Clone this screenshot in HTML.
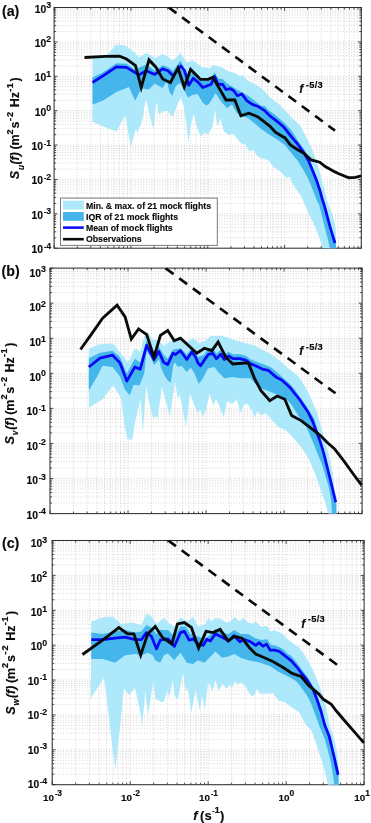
<!DOCTYPE html><html><head><meta charset="utf-8"><title>Spectra</title>
<style>html,body{margin:0;padding:0;background:#fff}svg{display:block}text{font-family:"Liberation Sans", sans-serif;font-weight:bold;fill:#0a0a0a;stroke:#0a0a0a;stroke-width:0.14px}</style></head><body>
<svg width="371" height="823" viewBox="0 0 371 823">
<rect width="371" height="823" fill="#fff"/>
<g id="panel-a">
<clipPath id="clip-a"><rect x="53.6" y="7.0" width="308.2" height="241.7"/></clipPath>
<path d="M77.27 7.5V248.2M90.80 7.5V248.2M100.40 7.5V248.2M107.84 7.5V248.2M113.92 7.5V248.2M119.06 7.5V248.2M123.52 7.5V248.2M127.45 7.5V248.2M130.96 7.5V248.2M154.09 7.5V248.2M167.61 7.5V248.2M177.21 7.5V248.2M184.65 7.5V248.2M190.73 7.5V248.2M195.88 7.5V248.2M200.33 7.5V248.2M204.26 7.5V248.2M207.78 7.5V248.2M230.90 7.5V248.2M244.42 7.5V248.2M254.02 7.5V248.2M261.46 7.5V248.2M267.55 7.5V248.2M272.69 7.5V248.2M277.14 7.5V248.2M281.07 7.5V248.2M284.59 7.5V248.2M307.71 7.5V248.2M321.24 7.5V248.2M330.83 7.5V248.2M338.28 7.5V248.2M344.36 7.5V248.2M349.50 7.5V248.2M353.96 7.5V248.2M357.89 7.5V248.2M54.1 237.85H361.4M54.1 231.79H361.4M54.1 227.50H361.4M54.1 224.17H361.4M54.1 221.44H361.4M54.1 219.14H361.4M54.1 217.15H361.4M54.1 215.39H361.4M54.1 213.81H361.4M54.1 203.46H361.4M54.1 197.41H361.4M54.1 193.11H361.4M54.1 189.78H361.4M54.1 187.06H361.4M54.1 184.75H361.4M54.1 182.76H361.4M54.1 181.00H361.4M54.1 179.43H361.4M54.1 169.08H361.4M54.1 163.02H361.4M54.1 158.73H361.4M54.1 155.39H361.4M54.1 152.67H361.4M54.1 150.37H361.4M54.1 148.38H361.4M54.1 146.62H361.4M54.1 145.04H361.4M54.1 134.69H361.4M54.1 128.64H361.4M54.1 124.34H361.4M54.1 121.01H361.4M54.1 118.29H361.4M54.1 115.98H361.4M54.1 113.99H361.4M54.1 112.23H361.4M54.1 110.66H361.4M54.1 100.31H361.4M54.1 94.25H361.4M54.1 89.95H361.4M54.1 86.62H361.4M54.1 83.90H361.4M54.1 81.60H361.4M54.1 79.60H361.4M54.1 77.84H361.4M54.1 76.27H361.4M54.1 65.92H361.4M54.1 59.87H361.4M54.1 55.57H361.4M54.1 52.24H361.4M54.1 49.51H361.4M54.1 47.21H361.4M54.1 45.22H361.4M54.1 43.46H361.4M54.1 41.89H361.4M54.1 31.53H361.4M54.1 25.48H361.4M54.1 21.18H361.4M54.1 17.85H361.4M54.1 15.13H361.4M54.1 12.83H361.4M54.1 10.83H361.4M54.1 9.07H361.4" stroke="#c6c6c6" stroke-width="0.7" stroke-dasharray="1 1.7" fill="none"/>
<path d="M54.15 248.2v-3.3M54.15 7.5v3.3M77.27 248.2v-2.0M77.27 7.5v2.0M90.80 248.2v-2.0M90.80 7.5v2.0M100.40 248.2v-2.0M100.40 7.5v2.0M107.84 248.2v-2.0M107.84 7.5v2.0M113.92 248.2v-2.0M113.92 7.5v2.0M119.06 248.2v-2.0M119.06 7.5v2.0M123.52 248.2v-2.0M123.52 7.5v2.0M127.45 248.2v-2.0M127.45 7.5v2.0M130.96 248.2v-3.3M130.96 7.5v3.3M154.09 248.2v-2.0M154.09 7.5v2.0M167.61 248.2v-2.0M167.61 7.5v2.0M177.21 248.2v-2.0M177.21 7.5v2.0M184.65 248.2v-2.0M184.65 7.5v2.0M190.73 248.2v-2.0M190.73 7.5v2.0M195.88 248.2v-2.0M195.88 7.5v2.0M200.33 248.2v-2.0M200.33 7.5v2.0M204.26 248.2v-2.0M204.26 7.5v2.0M207.78 248.2v-3.3M207.78 7.5v3.3M230.90 248.2v-2.0M230.90 7.5v2.0M244.42 248.2v-2.0M244.42 7.5v2.0M254.02 248.2v-2.0M254.02 7.5v2.0M261.46 248.2v-2.0M261.46 7.5v2.0M267.55 248.2v-2.0M267.55 7.5v2.0M272.69 248.2v-2.0M272.69 7.5v2.0M277.14 248.2v-2.0M277.14 7.5v2.0M281.07 248.2v-2.0M281.07 7.5v2.0M284.59 248.2v-3.3M284.59 7.5v3.3M307.71 248.2v-2.0M307.71 7.5v2.0M321.24 248.2v-2.0M321.24 7.5v2.0M330.83 248.2v-2.0M330.83 7.5v2.0M338.28 248.2v-2.0M338.28 7.5v2.0M344.36 248.2v-2.0M344.36 7.5v2.0M349.50 248.2v-2.0M349.50 7.5v2.0M353.96 248.2v-2.0M353.96 7.5v2.0M357.89 248.2v-2.0M357.89 7.5v2.0M361.40 248.2v-3.3M361.40 7.5v3.3M54.1 248.20h3.3M361.4 248.20h-3.3M54.1 237.85h2.0M361.4 237.85h-2.0M54.1 231.79h2.0M361.4 231.79h-2.0M54.1 227.50h2.0M361.4 227.50h-2.0M54.1 224.17h2.0M361.4 224.17h-2.0M54.1 221.44h2.0M361.4 221.44h-2.0M54.1 219.14h2.0M361.4 219.14h-2.0M54.1 217.15h2.0M361.4 217.15h-2.0M54.1 215.39h2.0M361.4 215.39h-2.0M54.1 213.81h3.3M361.4 213.81h-3.3M54.1 203.46h2.0M361.4 203.46h-2.0M54.1 197.41h2.0M361.4 197.41h-2.0M54.1 193.11h2.0M361.4 193.11h-2.0M54.1 189.78h2.0M361.4 189.78h-2.0M54.1 187.06h2.0M361.4 187.06h-2.0M54.1 184.75h2.0M361.4 184.75h-2.0M54.1 182.76h2.0M361.4 182.76h-2.0M54.1 181.00h2.0M361.4 181.00h-2.0M54.1 179.43h3.3M361.4 179.43h-3.3M54.1 169.08h2.0M361.4 169.08h-2.0M54.1 163.02h2.0M361.4 163.02h-2.0M54.1 158.73h2.0M361.4 158.73h-2.0M54.1 155.39h2.0M361.4 155.39h-2.0M54.1 152.67h2.0M361.4 152.67h-2.0M54.1 150.37h2.0M361.4 150.37h-2.0M54.1 148.38h2.0M361.4 148.38h-2.0M54.1 146.62h2.0M361.4 146.62h-2.0M54.1 145.04h3.3M361.4 145.04h-3.3M54.1 134.69h2.0M361.4 134.69h-2.0M54.1 128.64h2.0M361.4 128.64h-2.0M54.1 124.34h2.0M361.4 124.34h-2.0M54.1 121.01h2.0M361.4 121.01h-2.0M54.1 118.29h2.0M361.4 118.29h-2.0M54.1 115.98h2.0M361.4 115.98h-2.0M54.1 113.99h2.0M361.4 113.99h-2.0M54.1 112.23h2.0M361.4 112.23h-2.0M54.1 110.66h3.3M361.4 110.66h-3.3M54.1 100.31h2.0M361.4 100.31h-2.0M54.1 94.25h2.0M361.4 94.25h-2.0M54.1 89.95h2.0M361.4 89.95h-2.0M54.1 86.62h2.0M361.4 86.62h-2.0M54.1 83.90h2.0M361.4 83.90h-2.0M54.1 81.60h2.0M361.4 81.60h-2.0M54.1 79.60h2.0M361.4 79.60h-2.0M54.1 77.84h2.0M361.4 77.84h-2.0M54.1 76.27h3.3M361.4 76.27h-3.3M54.1 65.92h2.0M361.4 65.92h-2.0M54.1 59.87h2.0M361.4 59.87h-2.0M54.1 55.57h2.0M361.4 55.57h-2.0M54.1 52.24h2.0M361.4 52.24h-2.0M54.1 49.51h2.0M361.4 49.51h-2.0M54.1 47.21h2.0M361.4 47.21h-2.0M54.1 45.22h2.0M361.4 45.22h-2.0M54.1 43.46h2.0M361.4 43.46h-2.0M54.1 41.89h3.3M361.4 41.89h-3.3M54.1 31.53h2.0M361.4 31.53h-2.0M54.1 25.48h2.0M361.4 25.48h-2.0M54.1 21.18h2.0M361.4 21.18h-2.0M54.1 17.85h2.0M361.4 17.85h-2.0M54.1 15.13h2.0M361.4 15.13h-2.0M54.1 12.83h2.0M361.4 12.83h-2.0M54.1 10.83h2.0M361.4 10.83h-2.0M54.1 9.07h2.0M361.4 9.07h-2.0M54.1 7.50h3.3M361.4 7.50h-3.3" stroke="#2a2a2a" stroke-width="0.85" fill="none"/>
<rect x="54.1" y="7.5" width="307.2" height="240.7" fill="none" stroke="#303030" stroke-width="1.05"/>
<g clip-path="url(#clip-a)">
<polygon points="92.5,57.4 107.6,54.4 116.4,44.4 125.1,45.6 135.2,53.1 138.9,57.4 146.4,53.1 155.2,58.1 162.7,53.9 168.0,56.9 173.0,60.6 180.5,53.1 186.8,61.9 193.0,60.6 201.8,66.9 209.4,68.2 212.9,65.0 222.5,67.6 227.8,71.1 234.8,72.9 240.0,76.2 242.6,75.5 247.0,79.9 253.2,83.4 257.6,85.5 264.6,91.3 270.0,97.2 280.8,105.8 291.6,117.6 300.1,125.5 305.5,135.8 310.9,146.6 314.6,156.3 316.8,163.5 318.2,166.5 320.9,176.2 323.6,187.0 326.3,196.7 328.6,205.0 332.5,215.0 335.3,226.6 336.0,232.0 336.0,248.2 322.9,248.2 319.2,237.3 314.9,226.6 307.4,210.8 301.0,195.7 293.6,185.7 289.8,177.0 286.0,178.0 281.0,172.0 273.5,167.0 268.5,160.6 261.0,158.0 257.2,156.0 253.7,149.9 249.3,151.7 245.8,144.7 241.4,143.8 237.0,138.5 232.7,133.3 229.2,135.0 223.9,131.5 220.4,118.4 217.4,126.3 215.1,109.6 212.5,126.3 208.1,134.5 204.6,132.4 200.6,136.8 196.3,124.8 193.7,113.4 190.7,126.5 188.4,143.2 186.7,126.5 184.0,107.3 180.9,97.6 177.0,105.5 172.7,116.9 167.4,110.8 163.0,111.6 158.7,114.3 156.4,102.0 153.4,129.2 149.0,112.5 145.9,98.5 142.0,121.3 137.6,132.4 135.8,128.9 130.9,147.0 125.6,117.5 124.4,116.6 116.5,131.5 102.5,126.3 92.4,121.5" fill="#ade8fb"/>
<polygon points="92.5,77.4 102.6,72.4 116.4,63.2 126.4,63.7 135.2,69.4 146.4,64.4 154.7,70.7 162.7,65.2 168.0,66.9 173.0,70.7 180.5,60.6 187.9,75.7 193.2,72.2 197.6,75.7 202.8,80.9 209.4,79.4 211.1,79.0 214.6,72.0 218.1,78.5 222.5,79.0 226.9,83.2 236.9,89.5 248.2,95.7 261.0,105.8 264.6,106.0 270.0,111.2 276.5,116.0 284.0,122.5 291.6,130.6 299.0,142.3 304.4,149.8 309.5,160.0 313.5,169.7 317.8,180.5 321.0,190.2 323.7,200.0 325.4,205.0 331.0,226.6 334.2,237.3 336.0,242.0 336.0,248.2 330.0,248.2 327.3,237.3 324.6,226.6 319.2,205.0 316.6,200.0 314.9,195.6 311.2,185.9 306.9,176.2 302.5,168.6 297.2,160.0 295.8,158.4 290.4,152.0 285.0,145.0 278.0,140.0 270.0,135.0 261.0,129.0 254.5,123.3 248.2,118.3 236.9,113.3 231.9,104.5 226.9,108.3 220.6,100.8 215.6,93.2 209.4,103.3 206.3,105.4 202.8,102.8 197.6,94.1 192.3,94.9 187.9,97.6 184.4,90.6 180.0,82.7 175.7,86.2 172.2,95.8 169.5,92.3 166.9,80.9 162.5,87.9 154.6,83.5 149.0,89.5 141.4,88.2 135.2,100.8 128.9,87.0 116.4,92.0 102.6,100.8 92.5,104.5" fill="#45b6eb"/>
<polyline points="92.5,82.5 102.6,76.2 116.4,66.9 126.4,67.4 138.9,74.9 146.4,70.7 154.7,74.4 162.7,68.9 168.0,70.7 173.0,75.7 180.9,66.0 184.5,70.5 188.8,85.3 193.2,78.3 197.6,81.8 202.8,87.5 209.4,85.0 211.1,84.3 214.6,76.4 218.1,84.3 222.5,84.3 226.0,89.5 230.4,88.7 233.5,90.5 237.4,95.7 241.8,93.9 247.0,100.9 252.3,104.4 257.6,106.2 264.6,110.6 270.0,116.0 276.5,120.9 284.0,127.3 291.5,136.9 297.9,144.4 303.3,152.0 308.3,160.3 312.3,169.7 316.6,180.5 319.8,190.2 322.5,200.0 324.2,205.0 330.0,226.6 333.2,237.3 335.0,243.0" fill="none" stroke="#0808f6" stroke-width="2.75" stroke-linejoin="round"/>
<polyline points="84.5,57.5 105.0,56.4 119.5,56.2 126.5,59.0 135.5,65.5 141.2,87.5 149.0,59.9 155.7,66.9 162.7,79.0 170.4,82.7 178.0,68.2 184.3,87.0 190.6,69.4 200.6,79.4 208.1,79.4 212.9,77.3 226.0,100.0 234.8,100.0 240.9,115.8 248.8,113.2 257.6,116.7 261.5,119.7 270.0,126.3 275.4,132.2 280.0,135.0 285.0,137.9 290.4,144.9 296.9,149.3 304.4,153.6 311.2,160.0 319.8,162.2 325.2,166.5 335.0,171.9 338.3,173.5 348.8,177.7 355.5,177.3 361.2,175.8" fill="none" stroke="#0a0a0a" stroke-width="2.85" stroke-linejoin="miter"/>
<line x1="168.8" y1="7.5" x2="335.0" y2="130.6" stroke="#0a0a0a" stroke-width="2.65" stroke-dasharray="9.50 7.05" stroke-dashoffset="0.0"/>
</g>
<text x="51.1" y="12.6" text-anchor="end" font-size="10.3"><tspan>10</tspan><tspan dy="-4.5" font-size="8.8">3</tspan></text>
<text x="51.1" y="46.9" text-anchor="end" font-size="10.3"><tspan>10</tspan><tspan dy="-4.5" font-size="8.8">2</tspan></text>
<text x="51.1" y="81.3" text-anchor="end" font-size="10.3"><tspan>10</tspan><tspan dy="-4.5" font-size="8.8">1</tspan></text>
<text x="51.1" y="115.7" text-anchor="end" font-size="10.3"><tspan>10</tspan><tspan dy="-4.5" font-size="8.8">0</tspan></text>
<text x="51.1" y="150.0" text-anchor="end" font-size="10.3"><tspan>10</tspan><tspan dx="0.9" dy="-4.5" font-size="6.6">-</tspan><tspan font-size="8.8">1</tspan></text>
<text x="51.1" y="184.4" text-anchor="end" font-size="10.3"><tspan>10</tspan><tspan dx="0.9" dy="-4.5" font-size="6.6">-</tspan><tspan font-size="8.8">2</tspan></text>
<text x="51.1" y="218.8" text-anchor="end" font-size="10.3"><tspan>10</tspan><tspan dx="0.9" dy="-4.5" font-size="6.6">-</tspan><tspan font-size="8.8">3</tspan></text>
<text x="51.1" y="253.1" text-anchor="end" font-size="10.3"><tspan>10</tspan><tspan dx="0.9" dy="-4.5" font-size="6.6">-</tspan><tspan font-size="8.8">4</tspan></text>
<text x="2.0" y="15.9" font-size="14.2">(a)</text>
<text transform="translate(19.2 0) rotate(-90)" font-size="12.5" stroke-width="0.12"><tspan x="-179.2" font-style="italic">S</tspan><tspan x="-170.0" font-style="italic" font-size="8.3" dy="4.6">u</tspan><tspan x="-164.6" dy="-4.6" font-style="italic">(f)</tspan><tspan x="-149.6">(m</tspan><tspan x="-134.4" font-size="9.2" dy="-6.6">2</tspan><tspan x="-128.5" dy="6.6">s</tspan><tspan x="-121.0" font-size="9.2" dy="-6.6">-</tspan><tspan x="-116.9" font-size="9.2">2</tspan><tspan x="-107.2" dy="6.6">H</tspan><tspan x="-98.2">z</tspan><tspan x="-91.7" font-size="9.2" dy="-6.6">-</tspan><tspan x="-88.2" font-size="9.2">1</tspan><tspan x="-81.6" dy="6.6">)</tspan></text>
<text x="299.2" y="93.4" font-size="12"><tspan font-style="italic">f</tspan><tspan dx="2.6" dy="-5.2" font-size="9.4" letter-spacing="0.25">-5/3</tspan></text>
</g>
<g id="panel-b">
<clipPath id="clip-b"><rect x="49.5" y="267.6" width="313.1" height="246.5"/></clipPath>
<path d="M73.49 268.1V513.6M87.23 268.1V513.6M96.98 268.1V513.6M104.54 268.1V513.6M110.72 268.1V513.6M115.94 268.1V513.6M120.46 268.1V513.6M124.45 268.1V513.6M128.03 268.1V513.6M151.51 268.1V513.6M165.25 268.1V513.6M175.00 268.1V513.6M182.56 268.1V513.6M188.74 268.1V513.6M193.96 268.1V513.6M198.49 268.1V513.6M202.48 268.1V513.6M206.05 268.1V513.6M229.54 268.1V513.6M243.28 268.1V513.6M253.03 268.1V513.6M260.59 268.1V513.6M266.77 268.1V513.6M271.99 268.1V513.6M276.51 268.1V513.6M280.50 268.1V513.6M284.08 268.1V513.6M307.56 268.1V513.6M321.30 268.1V513.6M331.05 268.1V513.6M338.61 268.1V513.6M344.79 268.1V513.6M350.01 268.1V513.6M354.54 268.1V513.6M358.53 268.1V513.6M50.0 503.04H362.1M50.0 496.87H362.1M50.0 492.48H362.1M50.0 489.09H362.1M50.0 486.31H362.1M50.0 483.96H362.1M50.0 481.93H362.1M50.0 480.13H362.1M50.0 478.53H362.1M50.0 467.97H362.1M50.0 461.80H362.1M50.0 457.41H362.1M50.0 454.01H362.1M50.0 451.24H362.1M50.0 448.89H362.1M50.0 446.86H362.1M50.0 445.06H362.1M50.0 443.46H362.1M50.0 432.90H362.1M50.0 426.72H362.1M50.0 422.34H362.1M50.0 418.94H362.1M50.0 416.17H362.1M50.0 413.82H362.1M50.0 411.78H362.1M50.0 409.99H362.1M50.0 408.39H362.1M50.0 397.83H362.1M50.0 391.65H362.1M50.0 387.27H362.1M50.0 383.87H362.1M50.0 381.09H362.1M50.0 378.75H362.1M50.0 376.71H362.1M50.0 374.92H362.1M50.0 373.31H362.1M50.0 362.76H362.1M50.0 356.58H362.1M50.0 352.20H362.1M50.0 348.80H362.1M50.0 346.02H362.1M50.0 343.68H362.1M50.0 341.64H362.1M50.0 339.85H362.1M50.0 338.24H362.1M50.0 327.69H362.1M50.0 321.51H362.1M50.0 317.13H362.1M50.0 313.73H362.1M50.0 310.95H362.1M50.0 308.60H362.1M50.0 306.57H362.1M50.0 304.78H362.1M50.0 303.17H362.1M50.0 292.61H362.1M50.0 286.44H362.1M50.0 282.06H362.1M50.0 278.66H362.1M50.0 275.88H362.1M50.0 273.53H362.1M50.0 271.50H362.1M50.0 269.70H362.1" stroke="#c6c6c6" stroke-width="0.7" stroke-dasharray="1 1.7" fill="none"/>
<path d="M50.00 513.6v-3.3M50.00 268.1v3.3M73.49 513.6v-2.0M73.49 268.1v2.0M87.23 513.6v-2.0M87.23 268.1v2.0M96.98 513.6v-2.0M96.98 268.1v2.0M104.54 513.6v-2.0M104.54 268.1v2.0M110.72 513.6v-2.0M110.72 268.1v2.0M115.94 513.6v-2.0M115.94 268.1v2.0M120.46 513.6v-2.0M120.46 268.1v2.0M124.45 513.6v-2.0M124.45 268.1v2.0M128.03 513.6v-3.3M128.03 268.1v3.3M151.51 513.6v-2.0M151.51 268.1v2.0M165.25 513.6v-2.0M165.25 268.1v2.0M175.00 513.6v-2.0M175.00 268.1v2.0M182.56 513.6v-2.0M182.56 268.1v2.0M188.74 513.6v-2.0M188.74 268.1v2.0M193.96 513.6v-2.0M193.96 268.1v2.0M198.49 513.6v-2.0M198.49 268.1v2.0M202.48 513.6v-2.0M202.48 268.1v2.0M206.05 513.6v-3.3M206.05 268.1v3.3M229.54 513.6v-2.0M229.54 268.1v2.0M243.28 513.6v-2.0M243.28 268.1v2.0M253.03 513.6v-2.0M253.03 268.1v2.0M260.59 513.6v-2.0M260.59 268.1v2.0M266.77 513.6v-2.0M266.77 268.1v2.0M271.99 513.6v-2.0M271.99 268.1v2.0M276.51 513.6v-2.0M276.51 268.1v2.0M280.50 513.6v-2.0M280.50 268.1v2.0M284.08 513.6v-3.3M284.08 268.1v3.3M307.56 513.6v-2.0M307.56 268.1v2.0M321.30 513.6v-2.0M321.30 268.1v2.0M331.05 513.6v-2.0M331.05 268.1v2.0M338.61 513.6v-2.0M338.61 268.1v2.0M344.79 513.6v-2.0M344.79 268.1v2.0M350.01 513.6v-2.0M350.01 268.1v2.0M354.54 513.6v-2.0M354.54 268.1v2.0M358.53 513.6v-2.0M358.53 268.1v2.0M362.10 513.6v-3.3M362.10 268.1v3.3M50.0 513.60h3.3M362.1 513.60h-3.3M50.0 503.04h2.0M362.1 503.04h-2.0M50.0 496.87h2.0M362.1 496.87h-2.0M50.0 492.48h2.0M362.1 492.48h-2.0M50.0 489.09h2.0M362.1 489.09h-2.0M50.0 486.31h2.0M362.1 486.31h-2.0M50.0 483.96h2.0M362.1 483.96h-2.0M50.0 481.93h2.0M362.1 481.93h-2.0M50.0 480.13h2.0M362.1 480.13h-2.0M50.0 478.53h3.3M362.1 478.53h-3.3M50.0 467.97h2.0M362.1 467.97h-2.0M50.0 461.80h2.0M362.1 461.80h-2.0M50.0 457.41h2.0M362.1 457.41h-2.0M50.0 454.01h2.0M362.1 454.01h-2.0M50.0 451.24h2.0M362.1 451.24h-2.0M50.0 448.89h2.0M362.1 448.89h-2.0M50.0 446.86h2.0M362.1 446.86h-2.0M50.0 445.06h2.0M362.1 445.06h-2.0M50.0 443.46h3.3M362.1 443.46h-3.3M50.0 432.90h2.0M362.1 432.90h-2.0M50.0 426.72h2.0M362.1 426.72h-2.0M50.0 422.34h2.0M362.1 422.34h-2.0M50.0 418.94h2.0M362.1 418.94h-2.0M50.0 416.17h2.0M362.1 416.17h-2.0M50.0 413.82h2.0M362.1 413.82h-2.0M50.0 411.78h2.0M362.1 411.78h-2.0M50.0 409.99h2.0M362.1 409.99h-2.0M50.0 408.39h3.3M362.1 408.39h-3.3M50.0 397.83h2.0M362.1 397.83h-2.0M50.0 391.65h2.0M362.1 391.65h-2.0M50.0 387.27h2.0M362.1 387.27h-2.0M50.0 383.87h2.0M362.1 383.87h-2.0M50.0 381.09h2.0M362.1 381.09h-2.0M50.0 378.75h2.0M362.1 378.75h-2.0M50.0 376.71h2.0M362.1 376.71h-2.0M50.0 374.92h2.0M362.1 374.92h-2.0M50.0 373.31h3.3M362.1 373.31h-3.3M50.0 362.76h2.0M362.1 362.76h-2.0M50.0 356.58h2.0M362.1 356.58h-2.0M50.0 352.20h2.0M362.1 352.20h-2.0M50.0 348.80h2.0M362.1 348.80h-2.0M50.0 346.02h2.0M362.1 346.02h-2.0M50.0 343.68h2.0M362.1 343.68h-2.0M50.0 341.64h2.0M362.1 341.64h-2.0M50.0 339.85h2.0M362.1 339.85h-2.0M50.0 338.24h3.3M362.1 338.24h-3.3M50.0 327.69h2.0M362.1 327.69h-2.0M50.0 321.51h2.0M362.1 321.51h-2.0M50.0 317.13h2.0M362.1 317.13h-2.0M50.0 313.73h2.0M362.1 313.73h-2.0M50.0 310.95h2.0M362.1 310.95h-2.0M50.0 308.60h2.0M362.1 308.60h-2.0M50.0 306.57h2.0M362.1 306.57h-2.0M50.0 304.78h2.0M362.1 304.78h-2.0M50.0 303.17h3.3M362.1 303.17h-3.3M50.0 292.61h2.0M362.1 292.61h-2.0M50.0 286.44h2.0M362.1 286.44h-2.0M50.0 282.06h2.0M362.1 282.06h-2.0M50.0 278.66h2.0M362.1 278.66h-2.0M50.0 275.88h2.0M362.1 275.88h-2.0M50.0 273.53h2.0M362.1 273.53h-2.0M50.0 271.50h2.0M362.1 271.50h-2.0M50.0 269.70h2.0M362.1 269.70h-2.0M50.0 268.10h3.3M362.1 268.10h-3.3" stroke="#2a2a2a" stroke-width="0.85" fill="none"/>
<rect x="50.0" y="268.1" width="312.1" height="245.5" fill="none" stroke="#303030" stroke-width="1.05"/>
<g clip-path="url(#clip-b)">
<polygon points="88.8,348.8 98.8,344.4 112.8,343.2 117.2,348.8 127.5,362.0 129.7,359.5 133.8,350.0 136.2,348.5 140.2,352.0 144.3,336.2 147.5,332.1 152.3,339.4 158.8,340.5 164.0,345.9 168.0,343.2 173.0,339.4 179.3,336.9 186.8,342.0 193.0,338.2 199.3,343.2 205.6,340.7 210.6,335.7 221.9,335.7 229.4,338.2 237.0,340.7 245.7,343.2 255.0,345.5 262.3,349.7 270.8,353.9 279.3,360.6 286.5,366.7 293.8,372.8 295.9,374.1 302.0,381.3 306.8,389.8 311.1,398.3 313.7,405.0 317.3,413.5 320.3,423.2 322.8,432.9 325.8,442.6 327.6,450.0 329.5,458.0 332.1,470.0 335.0,491.6 335.9,500.0 336.4,505.0 336.4,513.6 328.0,513.6 326.2,505.9 321.2,490.8 314.9,473.3 308.6,458.2 301.0,447.0 293.6,438.2 286.0,430.6 278.5,426.9 272.3,420.6 266.0,413.0 261.0,415.6 257.8,410.9 254.7,417.0 251.7,410.0 247.3,403.9 243.8,404.8 240.3,412.7 236.8,399.5 232.4,403.9 227.2,401.3 223.7,417.0 219.3,405.7 216.1,399.5 213.1,405.7 209.6,393.4 206.1,410.0 202.6,416.2 199.9,409.2 197.8,412.7 193.4,403.0 189.9,393.4 185.9,427.6 182.9,410.0 179.9,395.1 177.7,397.8 175.0,382.0 169.8,417.0 165.4,399.5 161.9,387.3 157.5,418.8 155.8,416.2 153.1,417.9 148.8,401.3 146.4,386.4 145.4,396.0 142.9,432.8 140.7,399.5 135.8,418.8 132.3,439.5 127.4,439.5 124.4,424.0 120.9,397.8 113.0,385.5 102.5,399.5 88.9,407.4" fill="#ade8fb"/>
<polygon points="88.8,358.2 100.0,352.7 112.6,350.7 120.0,357.0 126.8,373.4 134.9,358.8 140.2,362.5 146.7,340.2 152.3,352.0 158.8,346.7 163.7,354.8 167.7,358.8 173.0,349.5 180.5,348.2 186.8,354.5 191.8,348.2 198.0,356.9 204.1,355.0 208.5,348.1 212.9,348.1 216.4,353.4 220.8,349.9 224.3,354.3 228.7,351.7 233.0,354.3 240.0,354.3 246.2,356.0 250.6,359.5 255.0,361.2 262.3,363.7 270.8,367.3 276.8,372.1 284.1,378.8 289.9,383.8 295.9,391.0 300.8,398.3 306.0,405.3 310.2,412.6 314.5,419.0 317.2,430.5 320.7,440.2 324.5,453.2 330.6,478.3 335.2,499.0 336.4,504.0 336.4,513.6 332.1,513.6 331.3,502.3 329.0,488.3 322.5,465.7 316.1,450.0 313.7,443.8 310.0,435.3 305.8,425.6 299.1,417.1 294.9,409.9 291.8,405.0 286.0,399.0 273.5,393.0 261.0,388.3 254.5,383.3 250.7,378.3 240.7,378.3 232.7,377.0 224.4,378.3 218.1,372.0 214.4,367.0 208.1,368.3 203.0,378.3 198.7,384.0 194.3,372.9 190.8,367.7 186.4,372.0 182.0,365.9 177.7,366.8 175.0,362.4 173.3,365.0 170.7,382.6 168.0,380.8 164.5,375.6 161.0,367.7 159.0,359.0 157.0,362.0 154.0,365.0 150.0,356.0 146.5,351.0 144.3,373.4 139.4,385.5 133.7,384.7 129.7,395.2 124.9,389.5 120.0,376.6 112.6,367.0 102.6,365.8 97.6,375.8 88.8,390.6" fill="#45b6eb"/>
<polyline points="88.8,367.0 100.0,358.2 112.6,355.2 120.0,362.9 126.8,381.1 134.9,366.9 140.2,369.3 146.7,345.1 154.0,359.6 158.8,351.5 163.7,362.4 167.7,364.5 173.0,353.2 175.5,354.5 180.5,350.7 186.8,359.5 191.8,352.0 195.6,357.0 198.0,363.0 200.6,365.7 204.1,360.4 208.5,354.3 212.9,353.4 216.4,358.7 220.8,354.3 224.3,359.5 228.7,356.0 233.0,358.7 240.0,358.7 246.2,360.4 250.6,363.9 255.0,365.5 262.3,369.1 268.3,370.3 273.2,374.6 276.8,377.6 281.7,380.0 286.5,384.3 289.9,387.4 294.7,393.5 299.6,399.5 303.5,405.5 308.2,412.3 312.4,420.8 316.1,430.5 319.7,440.2 322.8,450.0 323.7,453.2 330.0,478.3 335.8,502.3" fill="none" stroke="#0808f6" stroke-width="2.75" stroke-linejoin="round"/>
<polyline points="80.5,349.5 91.3,334.4 102.6,318.1 117.1,305.1 125.1,316.9 131.3,339.1 138.6,328.9 146.7,334.6 154.0,357.2 160.4,335.4 167.7,330.5 174.3,340.7 180.5,338.2 196.8,353.2 204.4,348.2 211.9,350.7 218.1,342.0 225.7,357.0 232.7,364.0 248.2,362.8 254.5,378.3 261.0,390.6 269.8,400.6 277.3,396.0 284.8,399.3 291.6,415.6 301.1,420.6 311.3,428.4 320.1,435.3 327.8,443.0 334.4,448.7 344.0,461.1 353.6,474.5 361.6,485.1" fill="none" stroke="#0a0a0a" stroke-width="2.85" stroke-linejoin="miter"/>
<line x1="165.8" y1="268.4" x2="335.5" y2="393.3" stroke="#0a0a0a" stroke-width="2.65" stroke-dasharray="9.70 7.10" stroke-dashoffset="0.0"/>
</g>
<text x="45.9" y="276.9" text-anchor="end" font-size="10.3"><tspan>10</tspan><tspan dy="-4.5" font-size="8.8">3</tspan></text>
<text x="45.9" y="311.4" text-anchor="end" font-size="10.3"><tspan>10</tspan><tspan dy="-4.5" font-size="8.8">2</tspan></text>
<text x="45.9" y="346.0" text-anchor="end" font-size="10.3"><tspan>10</tspan><tspan dy="-4.5" font-size="8.8">1</tspan></text>
<text x="45.9" y="380.5" text-anchor="end" font-size="10.3"><tspan>10</tspan><tspan dy="-4.5" font-size="8.8">0</tspan></text>
<text x="45.9" y="415.0" text-anchor="end" font-size="10.3"><tspan>10</tspan><tspan dx="0.9" dy="-4.5" font-size="6.6">-</tspan><tspan font-size="8.8">1</tspan></text>
<text x="45.9" y="449.5" text-anchor="end" font-size="10.3"><tspan>10</tspan><tspan dx="0.9" dy="-4.5" font-size="6.6">-</tspan><tspan font-size="8.8">2</tspan></text>
<text x="45.9" y="484.1" text-anchor="end" font-size="10.3"><tspan>10</tspan><tspan dx="0.9" dy="-4.5" font-size="6.6">-</tspan><tspan font-size="8.8">3</tspan></text>
<text x="45.9" y="518.6" text-anchor="end" font-size="10.3"><tspan>10</tspan><tspan dx="0.9" dy="-4.5" font-size="6.6">-</tspan><tspan font-size="8.8">4</tspan></text>
<text x="1.6" y="275.9" font-size="14.2">(b)</text>
<text transform="translate(13.5 0) rotate(-90)" font-size="12.5" stroke-width="0.12"><tspan x="-444.4" font-style="italic">S</tspan><tspan x="-435.2" font-style="italic" font-size="8.3" dy="4.6">v</tspan><tspan x="-429.8" dy="-4.6" font-style="italic">(f)</tspan><tspan x="-414.8">(m</tspan><tspan x="-399.6" font-size="9.2" dy="-6.6">2</tspan><tspan x="-393.7" dy="6.6">s</tspan><tspan x="-386.2" font-size="9.2" dy="-6.6">-</tspan><tspan x="-382.1" font-size="9.2">2</tspan><tspan x="-372.4" dy="6.6">H</tspan><tspan x="-363.4">z</tspan><tspan x="-356.9" font-size="9.2" dy="-6.6">-</tspan><tspan x="-353.4" font-size="9.2">1</tspan><tspan x="-346.8" dy="6.6">)</tspan></text>
<text x="299.2" y="355.2" font-size="12"><tspan font-style="italic">f</tspan><tspan dx="2.6" dy="-5.2" font-size="9.4" letter-spacing="0.25">-5/3</tspan></text>
</g>
<g id="panel-c">
<clipPath id="clip-c"><rect x="51.7" y="540.0" width="312.9" height="245.2"/></clipPath>
<path d="M75.67 540.5V784.7M89.40 540.5V784.7M99.15 540.5V784.7M106.70 540.5V784.7M112.88 540.5V784.7M118.10 540.5V784.7M122.62 540.5V784.7M126.61 540.5V784.7M130.18 540.5V784.7M153.65 540.5V784.7M167.38 540.5V784.7M177.12 540.5V784.7M184.68 540.5V784.7M190.85 540.5V784.7M196.07 540.5V784.7M200.59 540.5V784.7M204.58 540.5V784.7M208.15 540.5V784.7M231.62 540.5V784.7M245.35 540.5V784.7M255.10 540.5V784.7M262.65 540.5V784.7M268.83 540.5V784.7M274.05 540.5V784.7M278.57 540.5V784.7M282.56 540.5V784.7M286.12 540.5V784.7M309.60 540.5V784.7M323.33 540.5V784.7M333.07 540.5V784.7M340.63 540.5V784.7M346.80 540.5V784.7M352.02 540.5V784.7M356.54 540.5V784.7M360.53 540.5V784.7M52.2 774.20H364.1M52.2 768.06H364.1M52.2 763.70H364.1M52.2 760.32H364.1M52.2 757.55H364.1M52.2 755.22H364.1M52.2 753.20H364.1M52.2 751.41H364.1M52.2 749.81H364.1M52.2 739.31H364.1M52.2 733.17H364.1M52.2 728.81H364.1M52.2 725.43H364.1M52.2 722.67H364.1M52.2 720.33H364.1M52.2 718.31H364.1M52.2 716.52H364.1M52.2 714.93H364.1M52.2 704.43H364.1M52.2 698.28H364.1M52.2 693.93H364.1M52.2 690.54H364.1M52.2 687.78H364.1M52.2 685.45H364.1M52.2 683.42H364.1M52.2 681.64H364.1M52.2 680.04H364.1M52.2 669.54H364.1M52.2 663.40H364.1M52.2 659.04H364.1M52.2 655.66H364.1M52.2 652.90H364.1M52.2 650.56H364.1M52.2 648.54H364.1M52.2 646.75H364.1M52.2 645.16H364.1M52.2 634.66H364.1M52.2 628.51H364.1M52.2 624.15H364.1M52.2 620.77H364.1M52.2 618.01H364.1M52.2 615.68H364.1M52.2 613.65H364.1M52.2 611.87H364.1M52.2 610.27H364.1M52.2 599.77H364.1M52.2 593.63H364.1M52.2 589.27H364.1M52.2 585.89H364.1M52.2 583.13H364.1M52.2 580.79H364.1M52.2 578.77H364.1M52.2 576.98H364.1M52.2 575.39H364.1M52.2 564.88H364.1M52.2 558.74H364.1M52.2 554.38H364.1M52.2 551.00H364.1M52.2 548.24H364.1M52.2 545.90H364.1M52.2 543.88H364.1M52.2 542.10H364.1" stroke="#c6c6c6" stroke-width="0.7" stroke-dasharray="1 1.7" fill="none"/>
<path d="M52.20 784.7v-3.3M52.20 540.5v3.3M75.67 784.7v-2.0M75.67 540.5v2.0M89.40 784.7v-2.0M89.40 540.5v2.0M99.15 784.7v-2.0M99.15 540.5v2.0M106.70 784.7v-2.0M106.70 540.5v2.0M112.88 784.7v-2.0M112.88 540.5v2.0M118.10 784.7v-2.0M118.10 540.5v2.0M122.62 784.7v-2.0M122.62 540.5v2.0M126.61 784.7v-2.0M126.61 540.5v2.0M130.18 784.7v-3.3M130.18 540.5v3.3M153.65 784.7v-2.0M153.65 540.5v2.0M167.38 784.7v-2.0M167.38 540.5v2.0M177.12 784.7v-2.0M177.12 540.5v2.0M184.68 784.7v-2.0M184.68 540.5v2.0M190.85 784.7v-2.0M190.85 540.5v2.0M196.07 784.7v-2.0M196.07 540.5v2.0M200.59 784.7v-2.0M200.59 540.5v2.0M204.58 784.7v-2.0M204.58 540.5v2.0M208.15 784.7v-3.3M208.15 540.5v3.3M231.62 784.7v-2.0M231.62 540.5v2.0M245.35 784.7v-2.0M245.35 540.5v2.0M255.10 784.7v-2.0M255.10 540.5v2.0M262.65 784.7v-2.0M262.65 540.5v2.0M268.83 784.7v-2.0M268.83 540.5v2.0M274.05 784.7v-2.0M274.05 540.5v2.0M278.57 784.7v-2.0M278.57 540.5v2.0M282.56 784.7v-2.0M282.56 540.5v2.0M286.12 784.7v-3.3M286.12 540.5v3.3M309.60 784.7v-2.0M309.60 540.5v2.0M323.33 784.7v-2.0M323.33 540.5v2.0M333.07 784.7v-2.0M333.07 540.5v2.0M340.63 784.7v-2.0M340.63 540.5v2.0M346.80 784.7v-2.0M346.80 540.5v2.0M352.02 784.7v-2.0M352.02 540.5v2.0M356.54 784.7v-2.0M356.54 540.5v2.0M360.53 784.7v-2.0M360.53 540.5v2.0M364.10 784.7v-3.3M364.10 540.5v3.3M52.2 784.70h3.3M364.1 784.70h-3.3M52.2 774.20h2.0M364.1 774.20h-2.0M52.2 768.06h2.0M364.1 768.06h-2.0M52.2 763.70h2.0M364.1 763.70h-2.0M52.2 760.32h2.0M364.1 760.32h-2.0M52.2 757.55h2.0M364.1 757.55h-2.0M52.2 755.22h2.0M364.1 755.22h-2.0M52.2 753.20h2.0M364.1 753.20h-2.0M52.2 751.41h2.0M364.1 751.41h-2.0M52.2 749.81h3.3M364.1 749.81h-3.3M52.2 739.31h2.0M364.1 739.31h-2.0M52.2 733.17h2.0M364.1 733.17h-2.0M52.2 728.81h2.0M364.1 728.81h-2.0M52.2 725.43h2.0M364.1 725.43h-2.0M52.2 722.67h2.0M364.1 722.67h-2.0M52.2 720.33h2.0M364.1 720.33h-2.0M52.2 718.31h2.0M364.1 718.31h-2.0M52.2 716.52h2.0M364.1 716.52h-2.0M52.2 714.93h3.3M364.1 714.93h-3.3M52.2 704.43h2.0M364.1 704.43h-2.0M52.2 698.28h2.0M364.1 698.28h-2.0M52.2 693.93h2.0M364.1 693.93h-2.0M52.2 690.54h2.0M364.1 690.54h-2.0M52.2 687.78h2.0M364.1 687.78h-2.0M52.2 685.45h2.0M364.1 685.45h-2.0M52.2 683.42h2.0M364.1 683.42h-2.0M52.2 681.64h2.0M364.1 681.64h-2.0M52.2 680.04h3.3M364.1 680.04h-3.3M52.2 669.54h2.0M364.1 669.54h-2.0M52.2 663.40h2.0M364.1 663.40h-2.0M52.2 659.04h2.0M364.1 659.04h-2.0M52.2 655.66h2.0M364.1 655.66h-2.0M52.2 652.90h2.0M364.1 652.90h-2.0M52.2 650.56h2.0M364.1 650.56h-2.0M52.2 648.54h2.0M364.1 648.54h-2.0M52.2 646.75h2.0M364.1 646.75h-2.0M52.2 645.16h3.3M364.1 645.16h-3.3M52.2 634.66h2.0M364.1 634.66h-2.0M52.2 628.51h2.0M364.1 628.51h-2.0M52.2 624.15h2.0M364.1 624.15h-2.0M52.2 620.77h2.0M364.1 620.77h-2.0M52.2 618.01h2.0M364.1 618.01h-2.0M52.2 615.68h2.0M364.1 615.68h-2.0M52.2 613.65h2.0M364.1 613.65h-2.0M52.2 611.87h2.0M364.1 611.87h-2.0M52.2 610.27h3.3M364.1 610.27h-3.3M52.2 599.77h2.0M364.1 599.77h-2.0M52.2 593.63h2.0M364.1 593.63h-2.0M52.2 589.27h2.0M364.1 589.27h-2.0M52.2 585.89h2.0M364.1 585.89h-2.0M52.2 583.13h2.0M364.1 583.13h-2.0M52.2 580.79h2.0M364.1 580.79h-2.0M52.2 578.77h2.0M364.1 578.77h-2.0M52.2 576.98h2.0M364.1 576.98h-2.0M52.2 575.39h3.3M364.1 575.39h-3.3M52.2 564.88h2.0M364.1 564.88h-2.0M52.2 558.74h2.0M364.1 558.74h-2.0M52.2 554.38h2.0M364.1 554.38h-2.0M52.2 551.00h2.0M364.1 551.00h-2.0M52.2 548.24h2.0M364.1 548.24h-2.0M52.2 545.90h2.0M364.1 545.90h-2.0M52.2 543.88h2.0M364.1 543.88h-2.0M52.2 542.10h2.0M364.1 542.10h-2.0M52.2 540.50h3.3M364.1 540.50h-3.3" stroke="#2a2a2a" stroke-width="0.85" fill="none"/>
<rect x="52.2" y="540.5" width="311.9" height="244.2" fill="none" stroke="#303030" stroke-width="1.05"/>
<g clip-path="url(#clip-c)">
<polygon points="91.3,621.4 102.6,617.6 112.6,616.4 121.4,623.9 132.7,622.6 141.4,625.1 146.4,613.8 151.5,616.4 156.5,623.9 164.0,617.6 168.0,622.6 174.3,626.4 180.5,617.6 188.0,621.4 193.0,616.4 198.0,626.4 205.0,624.3 208.5,618.1 211.1,621.6 215.5,618.1 220.8,619.0 226.0,622.5 230.4,621.6 234.8,617.3 239.2,621.6 243.5,618.1 247.9,622.5 252.3,623.4 255.8,621.6 261.1,626.6 267.1,626.0 270.8,631.4 274.4,630.2 281.7,633.2 287.8,639.3 293.8,644.1 298.3,646.7 304.4,654.6 309.3,663.0 313.5,671.5 317.1,680.0 319.9,687.3 322.9,695.8 325.3,704.3 327.8,715.2 329.6,725.0 334.5,740.0 337.0,752.0 338.2,761.6 338.6,768.0 338.6,784.7 327.8,784.7 325.1,772.3 321.9,761.6 314.9,740.0 311.4,730.4 305.5,724.5 299.5,712.6 290.6,706.7 284.7,702.0 278.8,700.8 272.9,693.3 261.0,693.8 259.6,693.0 256.9,688.7 254.7,694.8 251.7,696.5 248.2,691.3 244.7,685.1 241.2,682.5 237.7,684.3 235.0,681.6 232.4,686.9 229.8,685.1 226.3,688.7 222.8,683.4 218.4,690.4 215.4,679.9 212.6,691.3 209.6,683.4 207.9,684.3 204.9,708.8 202.1,695.7 199.6,710.6 195.7,689.5 191.2,712.3 187.7,687.8 185.9,691.3 182.9,673.8 177.7,699.2 175.0,696.5 172.4,679.9 169.4,697.4 167.2,690.4 164.5,700.0 161.9,702.7 157.5,699.2 155.8,700.0 153.1,681.6 150.5,700.0 147.9,714.9 145.3,691.3 142.3,725.4 139.3,707.0 134.9,687.8 129.1,694.8 123.9,688.7 119.2,735.1 115.3,770.1 111.3,738.6 106.9,700.0 103.9,678.1 90.8,698.3" fill="#ade8fb"/>
<polygon points="91.3,632.6 102.6,633.9 115.1,631.4 125.1,630.1 135.2,632.6 141.4,631.4 146.4,625.1 151.5,627.6 156.5,633.9 160.2,630.1 168.0,630.0 174.3,636.4 180.5,626.4 185.5,626.4 190.6,633.9 198.0,636.4 204.4,638.9 209.4,635.2 215.6,628.9 221.9,632.6 228.2,633.9 234.4,630.0 240.7,633.9 248.2,633.9 255.0,638.1 261.1,639.9 267.1,639.3 270.8,644.8 276.8,646.0 282.9,649.0 287.8,653.8 291.1,655.8 297.1,663.0 302.0,669.7 306.2,675.2 309.3,680.0 311.6,684.0 315.0,691.0 318.8,700.6 322.5,711.5 326.0,725.0 330.4,736.3 335.6,758.6 338.6,772.0 338.6,784.7 334.3,784.7 332.6,772.3 330.7,761.6 325.1,740.0 318.8,724.5 315.0,714.0 311.4,704.3 307.1,695.8 300.3,686.0 296.0,681.0 290.0,677.5 278.8,671.9 269.9,666.0 261.0,663.0 254.5,661.5 248.2,660.2 240.7,657.7 234.4,654.0 228.2,656.5 221.9,657.7 215.6,651.4 209.4,657.7 204.4,662.7 198.0,660.2 193.0,664.0 186.8,662.7 180.5,652.7 174.3,660.2 168.0,653.5 164.0,655.2 160.2,662.7 155.2,660.2 152.7,655.2 147.7,652.7 141.4,655.2 135.2,654.0 125.1,655.2 115.1,662.7 102.6,659.0 91.3,659.0" fill="#45b6eb"/>
<polyline points="91.3,639.7 102.6,639.7 115.1,638.2 125.1,637.2 135.2,639.7 141.4,639.7 146.4,632.6 151.5,636.4 156.5,648.9 160.2,640.2 168.0,638.9 174.3,646.4 180.5,632.6 184.3,631.4 189.3,640.2 193.0,638.9 198.0,643.9 203.3,645.3 206.8,639.2 210.3,640.9 215.5,633.9 220.8,636.5 228.7,640.9 233.9,635.7 240.0,641.8 243.5,639.2 250.6,641.8 255.8,645.3 259.3,642.7 263.0,646.2 266.5,644.1 270.2,650.2 274.4,650.2 279.3,651.4 284.1,655.1 291.1,660.6 297.1,667.3 302.0,674.0 307.0,680.0 310.2,685.0 313.2,689.7 317.4,700.6 321.1,711.5 324.7,725.0 329.2,736.3 334.5,758.6 338.1,774.9" fill="none" stroke="#0808f6" stroke-width="2.75" stroke-linejoin="round"/>
<polyline points="82.5,654.5 102.6,640.2 118.9,627.6 127.6,633.9 133.9,633.9 140.7,655.2 147.7,633.9 155.2,626.4 162.7,637.7 168.0,641.4 171.8,643.9 177.5,623.9 184.3,622.6 191.4,627.5 198.6,648.2 206.1,631.4 213.1,632.6 220.1,629.4 228.2,640.9 234.4,636.4 242.0,638.2 249.5,647.7 255.7,654.0 261.0,656.3 272.9,661.5 283.2,667.5 292.1,673.4 301.0,676.4 308.4,685.2 318.8,694.1 323.3,699.3 331.0,704.0 336.0,710.5 344.0,720.0 354.4,731.9 363.9,742.9" fill="none" stroke="#0a0a0a" stroke-width="2.85" stroke-linejoin="miter"/>
<line x1="168.2" y1="540.4" x2="337.7" y2="665.2" stroke="#0a0a0a" stroke-width="2.65" stroke-dasharray="9.60 7.07" stroke-dashoffset="0.0"/>
</g>
<text x="47.2" y="547.1" text-anchor="end" font-size="10.3"><tspan>10</tspan><tspan dy="-4.5" font-size="8.8">3</tspan></text>
<text x="47.2" y="581.5" text-anchor="end" font-size="10.3"><tspan>10</tspan><tspan dy="-4.5" font-size="8.8">2</tspan></text>
<text x="47.2" y="616.0" text-anchor="end" font-size="10.3"><tspan>10</tspan><tspan dy="-4.5" font-size="8.8">1</tspan></text>
<text x="47.2" y="650.4" text-anchor="end" font-size="10.3"><tspan>10</tspan><tspan dy="-4.5" font-size="8.8">0</tspan></text>
<text x="47.2" y="684.9" text-anchor="end" font-size="10.3"><tspan>10</tspan><tspan dx="0.9" dy="-4.5" font-size="6.6">-</tspan><tspan font-size="8.8">1</tspan></text>
<text x="47.2" y="719.3" text-anchor="end" font-size="10.3"><tspan>10</tspan><tspan dx="0.9" dy="-4.5" font-size="6.6">-</tspan><tspan font-size="8.8">2</tspan></text>
<text x="47.2" y="753.7" text-anchor="end" font-size="10.3"><tspan>10</tspan><tspan dx="0.9" dy="-4.5" font-size="6.6">-</tspan><tspan font-size="8.8">3</tspan></text>
<text x="47.2" y="788.2" text-anchor="end" font-size="10.3"><tspan>10</tspan><tspan dx="0.9" dy="-4.5" font-size="6.6">-</tspan><tspan font-size="8.8">4</tspan></text>
<text x="2.0" y="547.9" font-size="14.2">(c)</text>
<text transform="translate(14.6 0) rotate(-90)" font-size="12.5" stroke-width="0.12"><tspan x="-714.7" font-style="italic">S</tspan><tspan x="-705.5" font-style="italic" font-size="8.3" dy="4.6">w</tspan><tspan x="-698.1" dy="-4.6" font-style="italic">(f)</tspan><tspan x="-683.1">(m</tspan><tspan x="-667.9" font-size="9.2" dy="-6.6">2</tspan><tspan x="-662.0" dy="6.6">s</tspan><tspan x="-654.5" font-size="9.2" dy="-6.6">-</tspan><tspan x="-650.4" font-size="9.2">2</tspan><tspan x="-640.7" dy="6.6">H</tspan><tspan x="-631.7">z</tspan><tspan x="-625.2" font-size="9.2" dy="-6.6">-</tspan><tspan x="-621.7" font-size="9.2">1</tspan><tspan x="-615.1" dy="6.6">)</tspan></text>
<text x="301.2" y="627.5" font-size="12"><tspan font-style="italic">f</tspan><tspan dx="2.6" dy="-5.2" font-size="9.4" letter-spacing="0.25">-5/3</tspan></text>
</g>
<text x="52.5" y="800.5" text-anchor="middle" font-size="9.9"><tspan>10</tspan><tspan dx="0.9" dy="-4.5" font-size="6.6">-</tspan><tspan font-size="8.5">3</tspan></text>
<text x="130.5" y="800.5" text-anchor="middle" font-size="9.9"><tspan>10</tspan><tspan dx="0.9" dy="-4.5" font-size="6.6">-</tspan><tspan font-size="8.5">2</tspan></text>
<text x="208.5" y="800.5" text-anchor="middle" font-size="9.9"><tspan>10</tspan><tspan dx="0.9" dy="-4.5" font-size="6.6">-</tspan><tspan font-size="8.5">1</tspan></text>
<text x="286.4" y="800.5" text-anchor="middle" font-size="9.9"><tspan>10</tspan><tspan dy="-4.5" font-size="8.5">0</tspan></text>
<text x="362.2" y="800.5" text-anchor="middle" font-size="9.9"><tspan>10</tspan><tspan dy="-4.5" font-size="8.5">1</tspan></text>
<text x="193.3" y="819.5" font-size="13"><tspan font-style="italic">f</tspan><tspan dx="-1.2"> (s</tspan><tspan dx="0.6" dy="-6.8" font-size="7">-</tspan><tspan font-size="9.6">1</tspan><tspan dy="6.8">)</tspan></text>
<g id="legend"><rect x="60.5" y="198.1" width="156.8" height="47.3" fill="#fff" stroke="#7a7a7a" stroke-width="1"/>
<rect x="63.0" y="200.7" width="20.8" height="8.8" fill="#ade8fb"/>
<rect x="63.0" y="212.0" width="20.8" height="8.8" fill="#45b6eb"/>
<line x1="63.0" x2="83.8" y1="227.6" y2="227.6" stroke="#0808f6" stroke-width="2.5"/>
<line x1="63.0" x2="83.8" y1="239.2" y2="239.2" stroke="#0a0a0a" stroke-width="2.6"/>
<text x="86" y="208.6" font-size="8.72" stroke-width="0.25">Min. &amp; max. of 21 mock flights</text>
<text x="86" y="219.8" font-size="8.72" stroke-width="0.25">IQR of 21 mock flights</text>
<text x="86" y="231.0" font-size="8.72" stroke-width="0.25">Mean of mock flights</text>
<text x="86" y="242.2" font-size="8.72" stroke-width="0.25">Observations</text>
</g>
</svg></body></html>
